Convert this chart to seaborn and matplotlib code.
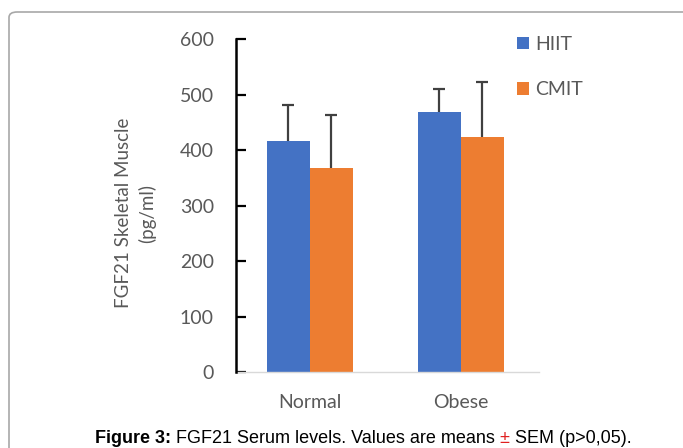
import matplotlib
matplotlib.use("Agg")
import matplotlib.pyplot as plt
from matplotlib.patches import FancyBboxPatch
import seaborn as sns
import pandas as pd
import numpy as np

# ---- data ----
groups = ["Normal", "Obese"]
trainings = ["HIIT", "CMIT"]
hiit_mean = [417, 469]
hiit_sem = [65, 42]
cmit_mean = [368, 423]
cmit_sem = [95, 100]
yticks = [0, 100, 200, 300, 400, 500, 600]

sns.set_style("white")
plt.rcParams["font.family"] = ["Lato", "DejaVu Sans"]

W, H = 683, 448
fig = plt.figure(figsize=(W / 100, H / 100), dpi=100)
fig.patch.set_facecolor("white")

# frame around figure
frame = FancyBboxPatch((9 / W, -0.2), 1.2, 1 - 12 / H + 0.2,
                       boxstyle="round,pad=0,rounding_size=0.012",
                       transform=fig.transFigure, fill=False,
                       edgecolor="#A8A8A8", linewidth=1.2)
fig.add_artist(frame)

ax = fig.add_axes([236 / W, 1 - 372 / H, 303 / W, (372 - 39.3) / H])

df = pd.DataFrame({
    "group": groups * 2,
    "training": [trainings[0]] * 2 + [trainings[1]] * 2,
    "value": hiit_mean + cmit_mean,
})
sems = {"HIIT": hiit_sem, "CMIT": cmit_sem}
palette = {"HIIT": "#4472C4", "CMIT": "#ED7D31"}

sns.barplot(data=df, x="group", y="value", hue="training", palette=palette,
            errorbar=None, width=0.57, saturation=1, linewidth=0, ax=ax)

for cont, tr in zip(ax.containers, trainings):
    xs = [p.get_x() + p.get_width() / 2 for p in cont.patches]
    hs = [p.get_height() for p in cont.patches]
    eb = ax.errorbar(xs, hs, yerr=[np.zeros(len(hs)), sems[tr]], fmt="none",
                     ecolor="#404040", elinewidth=1.6, capsize=4,
                     capthick=1.6, zorder=0.5)
    # hide the caps sitting on the bar tops (only upper SEM is drawn)
    for cap in eb[1]:
        if np.allclose(np.asarray(cap.get_ydata(), dtype=float), hs):
            cap.set_visible(False)

ax.set_ylim(0, 600)
ax.set_xlim(-0.49, 1.52)
ax.set_yticks(yticks)
ax.set_xlabel("")
ax.set_ylabel("")
for s in ["top", "right"]:
    ax.spines[s].set_visible(False)
ax.spines["left"].set_color("black")
ax.spines["left"].set_linewidth(1.8)
ax.spines["left"].set_zorder(3)
ax.spines["bottom"].set_color("#D9D9D9")
ax.spines["bottom"].set_linewidth(1.0)
ax.tick_params(axis="y", left=True, direction="in", length=7, width=1.6,
               color="black", labelsize=14, labelcolor="#595959", pad=16)
ax.tick_params(axis="x", bottom=False, length=0, labelsize=14,
               labelcolor="#595959", pad=16)

leg = ax.legend(frameon=False, loc="upper left",
                bbox_to_anchor=(517 / W, 1 - 36 / H),
                bbox_transform=fig.transFigure,
                handlelength=0.62, handleheight=0.62, handletextpad=0.3,
                labelspacing=1.45, fontsize=14, borderpad=0, borderaxespad=0)
for t in leg.get_texts():
    t.set_color("#595959")

fig.text(136 / W, 1 - 213 / H, "FGF21 Skeletal Muscle\n(pg/ml)", rotation=90,
         ha="center", va="center", multialignment="center",
         fontsize=13.5, color="#595959", linespacing=1.4)

# caption with mixed styles
cap_font = ["Liberation Sans", "DejaVu Sans"]
pieces = [("Figure 3:", "bold", "black"),
          (" FGF21 Serum levels. Values are means ", "normal", "black"),
          ("±", "normal", "#E02020"),
          (" SEM (p>0,05).", "normal", "black")]
renderer = fig.canvas.get_renderer()
texts = []
for s, w, c in pieces:
    t = fig.text(0, 1 - 443 / H, s, fontsize=13, fontweight=w, color=c,
                 family=cap_font, ha="left", va="baseline")
    texts.append(t)
widths = [t.get_window_extent(renderer).width for t in texts]
total = sum(widths)
x0 = 363 - total / 2
for t, w in zip(texts, widths):
    t.set_x(x0 / W)
    x0 += w

fig.savefig("out.png", dpi=100)
